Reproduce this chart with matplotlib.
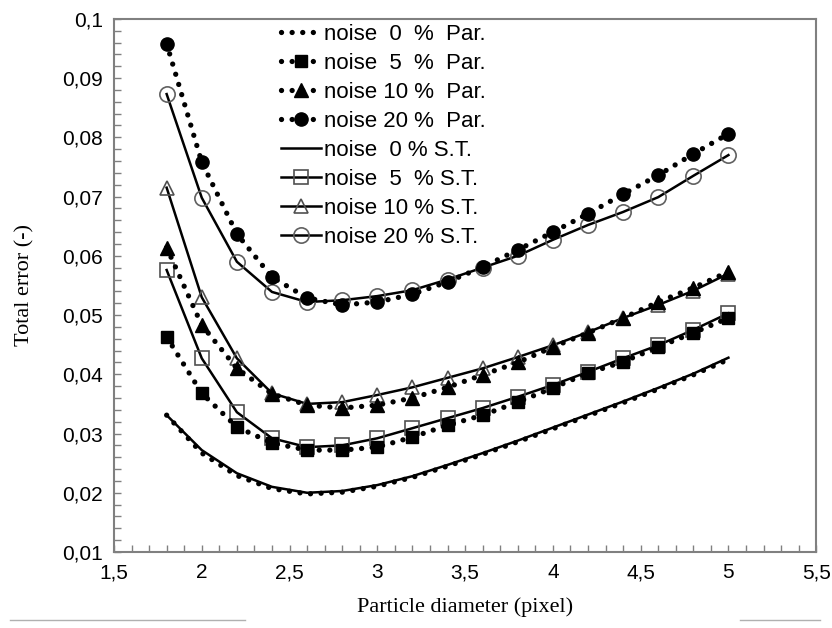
import numpy as np
import matplotlib
matplotlib.use("Agg")
import matplotlib.pyplot as plt
from matplotlib.ticker import MultipleLocator, FuncFormatter
from matplotlib.lines import Line2D

# particle diameters (pixel)
diam = [1.8, 2.0, 2.2, 2.4, 2.6, 2.8, 3.0, 3.2, 3.4, 3.6, 3.8, 4.0, 4.2, 4.4, 4.6, 4.8, 5.0]

# parabolic fit (Par.)
par_0 = [0.0331, 0.0267, 0.0229, 0.0207, 0.0198, 0.0201, 0.0211, 0.0226, 0.0245, 0.0265, 0.0286, 0.0308, 0.0330, 0.0352, 0.0375, 0.0399, 0.0425]
par_5 = [0.0463, 0.0368, 0.0311, 0.0284, 0.0272, 0.0272, 0.0277, 0.0294, 0.0314, 0.0331, 0.0353, 0.0377, 0.0402, 0.0421, 0.0446, 0.0470, 0.0495]
par_10 = [0.0614, 0.0483, 0.0410, 0.0367, 0.0348, 0.0343, 0.0348, 0.0360, 0.0378, 0.0399, 0.0420, 0.0446, 0.0470, 0.0495, 0.0522, 0.0546, 0.0573]
par_20 = [0.0958, 0.0758, 0.0637, 0.0564, 0.0529, 0.0517, 0.0522, 0.0535, 0.0556, 0.0581, 0.0610, 0.0640, 0.0671, 0.0704, 0.0736, 0.0772, 0.0806]

# S.T. method
st_0 = [0.0331, 0.0272, 0.0233, 0.0210, 0.0200, 0.0203, 0.0213, 0.0228, 0.0247, 0.0267, 0.0288, 0.0310, 0.0332, 0.0354, 0.0377, 0.0401, 0.0428]
st_5 = [0.0576, 0.0427, 0.0336, 0.0292, 0.0277, 0.0280, 0.0292, 0.0309, 0.0326, 0.0343, 0.0362, 0.0382, 0.0404, 0.0427, 0.0449, 0.0475, 0.0503]
st_10 = [0.0715, 0.0530, 0.0427, 0.0368, 0.0350, 0.0353, 0.0365, 0.0378, 0.0394, 0.0410, 0.0429, 0.0449, 0.0471, 0.0495, 0.0517, 0.0541, 0.0570]
st_20 = [0.0873, 0.0698, 0.0590, 0.0539, 0.0522, 0.0525, 0.0532, 0.0542, 0.0560, 0.0580, 0.0600, 0.0627, 0.0652, 0.0674, 0.0699, 0.0735, 0.0770]

par_labels = ["noise  0  %  Par.", "noise  5  %  Par.", "noise 10 %  Par.", "noise 20 %  Par."]
st_labels = ["noise  0 % S.T.", "noise  5  % S.T.", "noise 10 % S.T.", "noise 20 % S.T."]

axis_grey = "#808080"
sans = ["Liberation Sans Narrow", "Liberation Sans", "DejaVu Sans"]
serif = ["Liberation Serif", "DejaVu Serif"]

fig = plt.figure(figsize=(8.32, 6.28), dpi=100)
ax = fig.add_axes([0.137, 0.121, 0.844, 0.849])

dot_style = dict(color="black", linestyle=(0, (0.01, 2.0)), linewidth=3.8,
                 dash_capstyle="round", solid_capstyle="round")

# Par. curves: dotted with filled markers
ax.plot(diam, par_0, label=par_labels[0], **dot_style)
ax.plot(diam, par_5, marker="s", markersize=8.5, markerfacecolor="black",
        markeredgecolor="black", label=par_labels[1], **dot_style)
ax.plot(diam, par_10, marker="^", markersize=9.5, markerfacecolor="black",
        markeredgecolor="black", label=par_labels[2], **dot_style)
ax.plot(diam, par_20, marker="o", markersize=9.5, markerfacecolor="black",
        markeredgecolor="black", label=par_labels[3], **dot_style)

# S.T. curves: solid with open markers
ax.plot(diam, st_0, color="black", linewidth=1.8, label=st_labels[0], zorder=1.5)
ax.plot(diam, st_5, color="black", linewidth=1.8, marker="s", markersize=9.5,
        markerfacecolor="none", markeredgecolor="#505050", markeredgewidth=1.2,
        label=st_labels[1], zorder=1.5)
ax.plot(diam, st_10, color="black", linewidth=1.8, marker="^", markersize=10,
        markerfacecolor="none", markeredgecolor="#505050", markeredgewidth=1.2,
        label=st_labels[2], zorder=1.5)
ax.plot(diam, st_20, color="black", linewidth=1.8, marker="o", markersize=11,
        markerfacecolor="none", markeredgecolor="#606060", markeredgewidth=1.2,
        label=st_labels[3], zorder=1.5)

ax.set_xlim(1.5, 5.5)
ax.set_ylim(0.01, 0.1)
ax.xaxis.set_major_locator(MultipleLocator(0.5))
ax.xaxis.set_minor_locator(MultipleLocator(0.1))
ax.yaxis.set_major_locator(MultipleLocator(0.01))
ax.yaxis.set_minor_locator(MultipleLocator(0.002))


def comma_fmt(v, pos):
    s = f"{v:.2f}".rstrip("0").rstrip(".")
    return s.replace(".", ",")


ax.xaxis.set_major_formatter(FuncFormatter(comma_fmt))
ax.yaxis.set_major_formatter(FuncFormatter(comma_fmt))

for sp in ax.spines.values():
    sp.set_color(axis_grey)
    sp.set_linewidth(1.5)

ax.tick_params(which="both", direction="in", color=axis_grey, width=1.0,
               top=False, right=False)
ax.tick_params(which="major", length=5, labelsize=15, pad=8)
ax.tick_params(which="minor", length=5)
for lab in ax.get_xticklabels() + ax.get_yticklabels():
    lab.set_family(sans)

ax.set_xlabel("Particle diameter (pixel)", family=serif, fontsize=16, labelpad=11)
ax.set_ylabel("Total error (-)", family=serif, fontsize=16, labelpad=20)

leg = ax.legend(loc="upper left", bbox_to_anchor=(0.222, 1.012), frameon=False,
                prop={"family": sans, "size": 16}, handlelength=1.8,
                handletextpad=0.15, labelspacing=0.36, borderaxespad=0.1)

# page rule fragments under the figure
fig.add_artist(Line2D([0.012, 0.295], [0.013, 0.013], color="#b0b0b0", linewidth=1))
fig.add_artist(Line2D([0.89, 0.985], [0.013, 0.013], color="#b0b0b0", linewidth=1))

fig.savefig("out.png", dpi=100)
